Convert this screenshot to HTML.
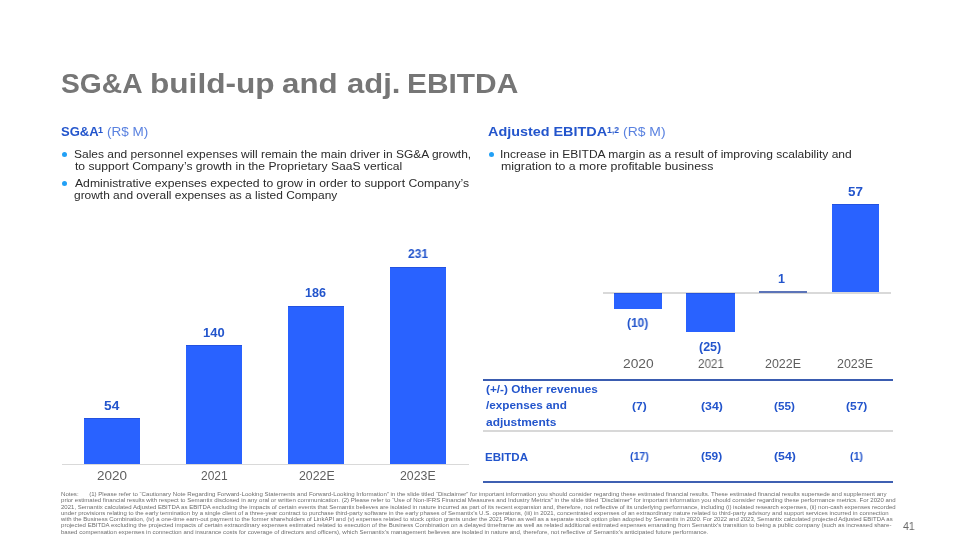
<!DOCTYPE html>
<html><head><meta charset="utf-8"><style>
html,body{margin:0;padding:0;background:#fff;}
body{width:960px;height:540px;position:relative;overflow:hidden;font-family:"Liberation Sans",sans-serif;}
.t{position:absolute;white-space:nowrap;will-change:transform;line-height:20px;height:20px;transform-origin:0 50%;}
.r{position:absolute;}
</style></head><body>
<div class="r" style="left:62px;top:463.5px;width:407px;height:1.5px;background:#d9d9d9;"></div><div class="r" style="left:84px;top:418px;width:56px;height:46px;background:#2962ff;box-shadow:inset 0 1px 0 #2352e0"></div><div class="r" style="left:186px;top:345px;width:56px;height:119px;background:#2962ff;box-shadow:inset 0 1px 0 #2352e0"></div><div class="r" style="left:288px;top:305.5px;width:56px;height:158.5px;background:#2962ff;box-shadow:inset 0 1px 0 #2352e0"></div><div class="r" style="left:390px;top:267px;width:56px;height:197px;background:#2962ff;box-shadow:inset 0 1px 0 #2352e0"></div><div class="r" style="left:602.7px;top:292px;width:288.3px;height:1.5px;background:#d9d9d9;"></div><div class="r" style="left:614px;top:293px;width:48px;height:16px;background:#2962ff;box-shadow:inset 0 1px 0 #2352e0"></div><div class="r" style="left:686px;top:293px;width:49px;height:39px;background:#2962ff;box-shadow:inset 0 1px 0 #2352e0"></div><div class="r" style="left:759px;top:291px;width:48px;height:1.8px;background:#5c74b8;"></div><div class="r" style="left:832px;top:204px;width:47.3px;height:87.7px;background:#2962ff;box-shadow:inset 0 1px 0 #2352e0"></div><div class="r" style="left:483px;top:379px;width:410px;height:2px;background:#3a5cb0;"></div><div class="r" style="left:483px;top:430px;width:410px;height:2px;background:#d8d8d8;"></div><div class="r" style="left:483px;top:481px;width:410px;height:2px;background:#3f60b2;"></div><div class="r" style="left:61.49999999999999px;top:152.0px;width:5.2px;height:5.2px;background:#22a0f6;border-radius:50%"></div><div class="r" style="left:61.49999999999999px;top:181.1px;width:5.2px;height:5.2px;background:#22a0f6;border-radius:50%"></div><div class="r" style="left:488.5px;top:152.0px;width:5.2px;height:5.2px;background:#22a0f6;border-radius:50%"></div>
<div class="t" style="left:60.99px;top:74.49px;font-size:28px;font-weight:700;color:#767676;transform:scaleX(1.00755);">SG&amp;A</div>
<div class="t" style="left:150.05px;top:74.49px;font-size:28px;font-weight:700;color:#767676;transform:scaleX(1.12884);">build-up</div>
<div class="t" style="left:282.12px;top:74.49px;font-size:28px;font-weight:700;color:#767676;transform:scaleX(1.11643);">and</div>
<div class="t" style="left:346.61px;top:74.49px;font-size:28px;font-weight:700;color:#767676;transform:scaleX(1.10880);">adj.</div>
<div class="t" style="left:407.16px;top:74.49px;font-size:28px;font-weight:700;color:#767676;transform:scaleX(1.06782);">EBITDA</div>
<div class="t" style="left:61.01px;top:121.99px;font-size:13px;font-weight:700;color:#2355cc;transform:scaleX(0.99320);">SG&amp;A</div>
<div class="t" style="left:98.40px;top:119.68px;font-size:9px;font-weight:700;color:#2355cc;transform:scaleX(0.96000);">1</div>
<div class="t" style="left:106.97px;top:121.99px;font-size:13px;font-weight:400;color:#5a82e0;transform:scaleX(1.03793);">(R$ M)</div>
<div class="t" style="left:487.93px;top:121.99px;font-size:13px;font-weight:700;color:#2355cc;transform:scaleX(1.10608);">Adjusted EBITDA</div>
<div class="t" style="left:606.91px;top:119.68px;font-size:9px;font-weight:700;color:#2355cc;transform:scaleX(0.96000);">1,2</div>
<div class="t" style="left:622.92px;top:121.99px;font-size:13px;font-weight:400;color:#5a82e0;transform:scaleX(1.07060);">(R$ M)</div>
<div class="t" style="left:73.98px;top:143.94px;font-size:11.7px;font-weight:400;color:#2b2b2b;transform:scaleX(1.02395);">Sales and personnel expenses will remain the main driver in SG&amp;A growth,</div>
<div class="t" style="left:74.99px;top:155.54px;font-size:11.7px;font-weight:400;color:#2b2b2b;transform:scaleX(1.03487);">to support Company’s growth in the Proprietary SaaS vertical</div>
<div class="t" style="left:74.99px;top:172.94px;font-size:11.7px;font-weight:400;color:#2b2b2b;transform:scaleX(1.04098);">Administrative expenses expected to grow in order to support Company’s</div>
<div class="t" style="left:73.99px;top:184.54px;font-size:11.7px;font-weight:400;color:#2b2b2b;transform:scaleX(1.02058);">growth and overall expenses as a listed Company</div>
<div class="t" style="left:500.47px;top:143.94px;font-size:11.7px;font-weight:400;color:#2b2b2b;transform:scaleX(1.02941);">Increase in EBITDA margin as a result of improving scalability and</div>
<div class="t" style="left:501.45px;top:155.54px;font-size:11.7px;font-weight:400;color:#2b2b2b;transform:scaleX(1.05443);">migration to a more profitable business</div>
<div class="t" style="left:103.97px;top:395.67px;font-size:12.5px;font-weight:700;color:#2355cc;transform:scaleX(1.09819);">54</div>
<div class="t" style="left:202.99px;top:322.67px;font-size:12.5px;font-weight:700;color:#2355cc;transform:scaleX(1.03597);">140</div>
<div class="t" style="left:304.50px;top:283.07px;font-size:12.5px;font-weight:700;color:#2355cc;transform:scaleX(1.00512);">186</div>
<div class="t" style="left:407.54px;top:243.97px;font-size:12.5px;font-weight:700;color:#2355cc;transform:scaleX(0.96000);">231</div>
<div class="t" style="left:96.65px;top:466.24px;font-size:12px;font-weight:400;color:#5e5e5e;transform:scaleX(1.12438);">2020</div>
<div class="t" style="left:200.51px;top:466.24px;font-size:12px;font-weight:400;color:#5e5e5e;transform:scaleX(0.99425);">2021</div>
<div class="t" style="left:298.73px;top:466.24px;font-size:12px;font-weight:400;color:#5e5e5e;transform:scaleX(1.02963);">2022E</div>
<div class="t" style="left:399.98px;top:466.24px;font-size:12px;font-weight:400;color:#5e5e5e;transform:scaleX(1.02817);">2023E</div>
<div class="t" style="left:848.46px;top:181.77px;font-size:12.5px;font-weight:700;color:#2355cc;transform:scaleX(1.07316);">57</div>
<div class="t" style="left:778.33px;top:268.97px;font-size:12.5px;font-weight:700;color:#2355cc;transform:scaleX(0.96000);">1</div>
<div class="t" style="left:627.44px;top:312.67px;font-size:12.5px;font-weight:700;color:#2355cc;transform:scaleX(0.96000);">(10)</div>
<div class="t" style="left:699.01px;top:336.67px;font-size:12.5px;font-weight:700;color:#2355cc;transform:scaleX(0.98824);">(25)</div>
<div class="t" style="left:622.60px;top:354.44px;font-size:12px;font-weight:400;color:#5e5e5e;transform:scaleX(1.14958);">2020</div>
<div class="t" style="left:697.51px;top:354.44px;font-size:12px;font-weight:400;color:#5e5e5e;transform:scaleX(0.97087);">2021</div>
<div class="t" style="left:765.24px;top:354.44px;font-size:12px;font-weight:400;color:#5e5e5e;transform:scaleX(1.03704);">2022E</div>
<div class="t" style="left:837.49px;top:354.44px;font-size:12px;font-weight:400;color:#5e5e5e;transform:scaleX(1.03704);">2023E</div>
<div class="t" style="left:485.96px;top:378.79px;font-size:11px;font-weight:700;color:#2355cc;transform:scaleX(1.07216);">(+/-) Other revenues</div>
<div class="t" style="left:486.00px;top:395.39px;font-size:11px;font-weight:700;color:#2355cc;transform:scaleX(1.06646);">/expenses and</div>
<div class="t" style="left:485.98px;top:412.39px;font-size:11px;font-weight:700;color:#2355cc;transform:scaleX(1.08562);">adjustments</div>
<div class="t" style="left:484.96px;top:446.59px;font-size:11px;font-weight:700;color:#2355cc;transform:scaleX(1.05000);">EBITDA</div>
<div class="t" style="left:632.43px;top:395.59px;font-size:11px;font-weight:700;color:#2355cc;transform:scaleX(1.09213);">(7)</div>
<div class="t" style="left:700.89px;top:395.59px;font-size:11px;font-weight:700;color:#2355cc;transform:scaleX(1.11899);">(34)</div>
<div class="t" style="left:774.43px;top:395.59px;font-size:11px;font-weight:700;color:#2355cc;transform:scaleX(1.06494);">(55)</div>
<div class="t" style="left:845.92px;top:395.59px;font-size:11px;font-weight:700;color:#2355cc;transform:scaleX(1.09196);">(57)</div>
<div class="t" style="left:629.73px;top:446.39px;font-size:11px;font-weight:700;color:#2355cc;transform:scaleX(0.96000);">(17)</div>
<div class="t" style="left:701.45px;top:446.39px;font-size:11px;font-weight:700;color:#2355cc;transform:scaleX(1.08382);">(59)</div>
<div class="t" style="left:773.93px;top:446.39px;font-size:11px;font-weight:700;color:#2355cc;transform:scaleX(1.12194);">(54)</div>
<div class="t" style="left:850.00px;top:446.39px;font-size:11px;font-weight:700;color:#2355cc;transform:scaleX(0.96000);">(1)</div>
<div class="t" style="left:60.97px;top:483.99px;font-size:5.8px;font-weight:400;color:#6e6e6e;transform:scaleX(1.05096);">Notes:<span style="display:inline-block;width:10px"></span>(1) Please refer to “Cautionary Note Regarding Forward-Looking Statements and Forward-Looking Information” in the slide titled “Disclaimer” for important information you should consider regarding these estimated financial results. These estimated financial results supersede and supplement any</div>
<div class="t" style="left:60.99px;top:490.29px;font-size:5.8px;font-weight:400;color:#6e6e6e;transform:scaleX(1.04708);">prior estimated financial results with respect to Semantix disclosed in any oral or written communication. (2) Please refer to “Use of Non-IFRS Financial Measures and Industry Metrics” in the slide titled “Disclaimer” for important information you should consider regarding these performance metrics. For 2020 and</div>
<div class="t" style="left:60.99px;top:496.59px;font-size:5.8px;font-weight:400;color:#6e6e6e;transform:scaleX(1.03827);">2021, Semantix calculated Adjusted EBITDA as EBITDA excluding the impacts of certain events that Semantix believes are isolated in nature incurred as part of its recent expansion and, therefore, not reflective of its underlying performance, including (i) isolated research expenses, (ii) non-cash expenses recorded</div>
<div class="t" style="left:60.99px;top:502.89px;font-size:5.8px;font-weight:400;color:#6e6e6e;transform:scaleX(1.04255);">under provisions relating to the early termination by a single client of a three-year contract to purchase third-party software in the early phases of Semantix’s U.S. operations, (iii) in 2021, concentrated expenses of an extraordinary nature related to third-party advisory and support services incurred in connection</div>
<div class="t" style="left:61.00px;top:509.19px;font-size:5.8px;font-weight:400;color:#6e6e6e;transform:scaleX(1.03356);">with the Business Combination, (iv) a one-time earn-out payment to the former shareholders of LinkAPI and (v) expenses related to stock option grants under the 2021 Plan as well as a separate stock option plan adopted by Semantix in 2020. For 2022 and 2023, Semantix calculated projected Adjusted EBITDA as</div>
<div class="t" style="left:60.99px;top:515.49px;font-size:5.8px;font-weight:400;color:#6e6e6e;transform:scaleX(1.04732);">projected EBITDA excluding the projected impacts of certain extraordinary expenses estimated related to execution of the Business Combination on a delayed timeframe as well as related additional estimated expenses emanating from Semantix’s transition to being a public company (such as increased share-</div>
<div class="t" style="left:60.99px;top:521.79px;font-size:5.8px;font-weight:400;color:#6e6e6e;transform:scaleX(1.04358);">based compensation expenses in connection and insurance costs for coverage of directors and officers), which Semantix’s management believes are isolated in nature and, therefore, not reflective of Semantix’s anticipated future performance.</div>
<div class="t" style="left:902.99px;top:515.69px;font-size:11px;font-weight:400;color:#666666;transform:scaleX(0.96000);">41</div>
</body></html>
